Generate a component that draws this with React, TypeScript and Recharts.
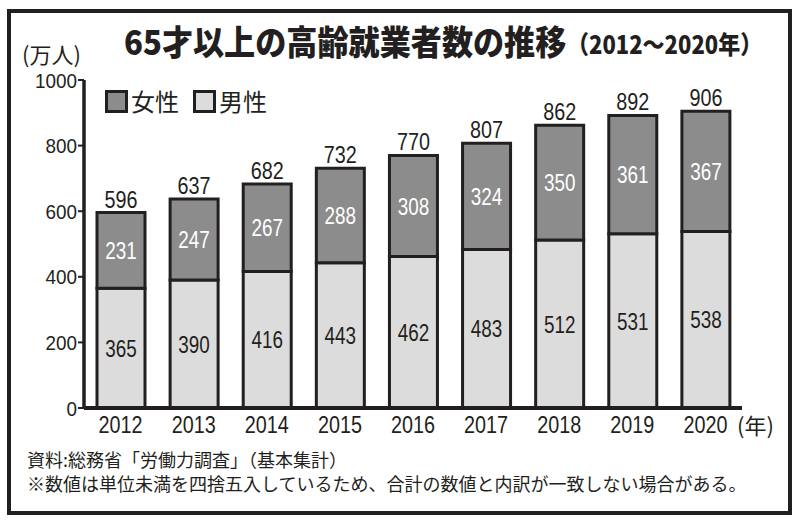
import { Bar, BarChart, LabelList, XAxis, YAxis } from 'recharts'

const years = ['2012', '2013', '2014', '2015', '2016', '2017', '2018', '2019', '2020']
const female = [231, 247, 267, 288, 308, 324, 350, 361, 367]
const male = [365, 390, 416, 443, 462, 483, 512, 531, 538]
const totals = [596, 637, 682, 732, 770, 807, 862, 892, 906]
const yTicks = [0, 200, 400, 600, 800, 1000]

const NUM = '"Liberation Sans", Arial, sans-serif'
const JP = '"Noto Sans CJK JP", sans-serif'
const INK = '#231f20'
const FEMALE_FILL = '#8c8c8c'
const MALE_FILL = '#dcdcdc'

const data = years.map((year, i) => ({
  year,
  female: female[i],
  male: male[i],
  total: totals[i]
}))

// condensed digits: the reference uses a narrow face, so squeeze with textLength
function narrow(value: any, x: number, y: number, opts: any) {
  const s = String(value)
  return (
    <text
      x={x}
      y={y}
      dy={opts.dy}
      textAnchor={opts.anchor || 'middle'}
      fontFamily={NUM}
      fontSize={opts.size}
      fill={opts.fill || INK}
      textLength={s.length * opts.per}
      lengthAdjust="spacingAndGlyphs"
    >
      {s}
    </text>
  )
}

const centerLabel = (fill: string) => (props: any) => {
  const { x, y, width, height, value } = props
  return narrow(value, x + width / 2, y + height / 2, { dy: '0.36em', size: 24, per: 10.5, fill })
}

const totalLabel = (props: any) => {
  const { x, y, width, value } = props
  return narrow(value, x + width / 2, y - 5, { size: 24, per: 11 })
}

const XTick = (props: any) => {
  const { x, y, payload } = props
  return narrow(payload.value, x, y, { dy: '0.71em', size: 24, per: 11 })
}

const YTick = (props: any) => {
  const { x, y, payload } = props
  return narrow(payload.value, x, y, { dy: '0.36em', size: 21, per: 10.5, anchor: 'end' })
}

function LegendBox({ color, label }: { color: string; label: string }) {
  return (
    <span style={{ display: 'inline-flex', alignItems: 'center', marginRight: 14 }}>
      <span
        style={{
          display: 'inline-block',
          width: 17,
          height: 17,
          background: color,
          border: `3px solid ${INK}`,
          marginRight: 3
        }}
      />
      <span style={{ fontFamily: JP, fontSize: 24, color: INK, lineHeight: 1 }}>{label}</span>
    </span>
  )
}

export default function App() {
  return (
    <div
      style={{
        position: 'absolute',
        left: 0,
        top: 0,
        width: 800,
        height: 522,
        background: '#fff',
        overflow: 'hidden'
      }}
    >
      <div
        style={{
          position: 'absolute',
          left: 7,
          top: 9,
          width: 777,
          height: 498,
          border: `4px solid ${INK}`
        }}
      />
      <div
        style={{
          position: 'absolute',
          left: 124,
          top: 24,
          whiteSpace: 'nowrap',
          fontFamily: JP,
          fontWeight: 900,
          fontSize: 34,
          color: INK,
          lineHeight: 1,
          transform: 'scaleX(0.915)',
          transformOrigin: 'left top'
        }}
      >
        65才以上の高齢就業者数の推移
      </div>
      <div
        style={{
          position: 'absolute',
          left: 567,
          top: 31,
          whiteSpace: 'nowrap',
          fontFamily: JP,
          fontWeight: 900,
          fontSize: 25,
          color: INK,
          lineHeight: 1,
          transform: 'scaleX(0.88)',
          transformOrigin: 'left top'
        }}
      >
        （2012〜2020年）
      </div>
      <div
        style={{
          position: 'absolute',
          left: 22,
          top: 42,
          fontFamily: JP,
          fontSize: 22,
          color: INK,
          lineHeight: 1
        }}
      >
        (万人)
      </div>
      <div style={{ position: 'absolute', left: 105, top: 89, display: 'flex' }}>
        <LegendBox color={FEMALE_FILL} label="女性" />
        <LegendBox color={MALE_FILL} label="男性" />
      </div>
      <div
        style={{
          position: 'absolute',
          left: 737,
          top: 413,
          fontFamily: JP,
          fontSize: 22,
          color: INK,
          lineHeight: 1
        }}
      >
        (年)
      </div>
      <div
        style={{
          position: 'absolute',
          left: 27,
          top: 447,
          fontFamily: JP,
          fontSize: 18,
          color: INK,
          lineHeight: 1.35,
          whiteSpace: 'nowrap'
        }}
      >
        <div>資料:総務省「労働力調査」（基本集計）</div>
        <div>※数値は単位未満を四捨五入しているため、合計の数値と内訳が一致しない場合がある。</div>
      </div>
      <div style={{ position: 'absolute', left: 0, top: 0 }}>
        <BarChart
          width={800}
          height={522}
          data={data}
          margin={{ top: 80, right: 58, bottom: 84, left: 24 }}
          barSize={48}
        >
          <XAxis
            dataKey="year"
            height={30}
            tickLine={false}
            axisLine={{ stroke: INK, strokeWidth: 4 }}
            tick={<XTick />}
            tickMargin={2}
          />
          <YAxis
            width={60}
            domain={[0, 1000]}
            ticks={yTicks}
            interval={0}
            axisLine={{ stroke: INK, strokeWidth: 3.5 }}
            tickLine={{ stroke: INK, strokeWidth: 2 }}
            tickSize={6}
            tickMargin={1}
            tick={<YTick />}
          />
          <Bar
            dataKey="male"
            stackId="a"
            fill={MALE_FILL}
            stroke={INK}
            strokeWidth={3}
            isAnimationActive={false}
          >
            <LabelList dataKey="male" content={centerLabel(INK)} />
          </Bar>
          <Bar
            dataKey="female"
            stackId="a"
            fill={FEMALE_FILL}
            stroke={INK}
            strokeWidth={3}
            isAnimationActive={false}
          >
            <LabelList dataKey="female" content={centerLabel('#fff')} />
            <LabelList dataKey="total" content={totalLabel} />
          </Bar>
        </BarChart>
      </div>
    </div>
  )
}
